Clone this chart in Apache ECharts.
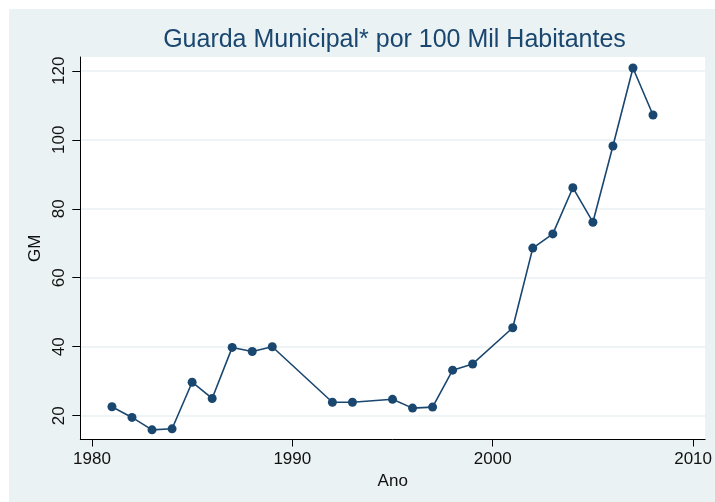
<!DOCTYPE html>
<html>
<head>
<meta charset="utf-8">
<script src="https://cdn.jsdelivr.net/npm/echarts@6/dist/echarts.min.js"></script>
<style>
html,body{margin:0;padding:0;background:#ffffff;overflow:hidden;}
#chart{width:715px;height:502px;}
</style>
</head>
<body>
<div id="chart"></div>
<script>
const years = [1981,1982,1983,1984,1985,1986,1987,1988,1989,1992,1993,1995,1996,1997,1998,1999,2001,2002,2003,2004,2005,2006,2007,2008];
const gm = [22.6,19.5,15.9,16.2,29.7,25.0,39.8,38.6,40.0,23.9,23.9,24.75,22.2,22.5,33.2,35.0,45.5,68.6,72.7,86.1,76.1,98.2,120.8,107.2];
const xTicks = [1980,1990,2000,2010];
const yTicks = [20,40,60,80,100,120];

const chart = echarts.init(document.getElementById('chart'), null, {renderer:'canvas', width:715, height:502});
const font = 'Liberation Sans, Arial, Helvetica, sans-serif';
chart.setOption({
  backgroundColor:'#ffffff',
  animation:false,
  graphic:[{type:'rect', z:-10, silent:true, shape:{x:9,y:9,width:706,height:493}, style:{fill:'#eaf2f3'}}],
  title:{
    text:'Guarda Municipal* por 100 Mil Habitantes',
    left:394.5, textAlign:'center', top:27.5, padding:0,
    textStyle:{fontFamily:font, fontWeight:'normal', fontSize:25, color:'#1a476f'}
  },
  grid:{left:80.3, top:57, right:5.7, bottom:62.5, show:true, backgroundColor:'#ffffff', borderWidth:0, containLabel:false},
  xAxis:{
    type:'value', min:1979.42, max:2010.6,
    name:'Ano', nameLocation:'middle', nameGap:28,
    nameTextStyle:{fontFamily:font, fontSize:17, color:'#111'},
    axisLine:{show:true, onZero:false, lineStyle:{color:'#000', width:1}},
    axisTick:{show:true, length:7, customValues:xTicks, lineStyle:{color:'#000'}},
    axisLabel:{customValues:xTicks, margin:11, fontFamily:font, fontSize:17, color:'#111', formatter:v=>String(v)},
    splitLine:{show:false}
  },
  yAxis:{
    type:'value', min:13.1, max:124,
    name:'GM', nameLocation:'middle', nameGap:33, nameRotate:90,
    nameTextStyle:{fontFamily:font, fontSize:17, color:'#111'},
    axisLine:{show:true, onZero:false, lineStyle:{color:'#000', width:1}},
    axisTick:{show:true, length:8, customValues:yTicks, lineStyle:{color:'#000'}},
    axisLabel:{customValues:yTicks, rotate:90, margin:12, fontFamily:font, fontSize:17, color:'#111', formatter:v=>String(v)},
    splitLine:{show:true, lineStyle:{color:'#eaf2f3', width:1.5}}
  },
  series:[{
    type:'line',
    data:years.map((y,i)=>[y,gm[i]]),
    symbol:'circle', symbolSize:9,
    lineStyle:{color:'#1a476f', width:1.6},
    itemStyle:{color:'#1a476f'}
  }]
});
</script>
</body>
</html>
